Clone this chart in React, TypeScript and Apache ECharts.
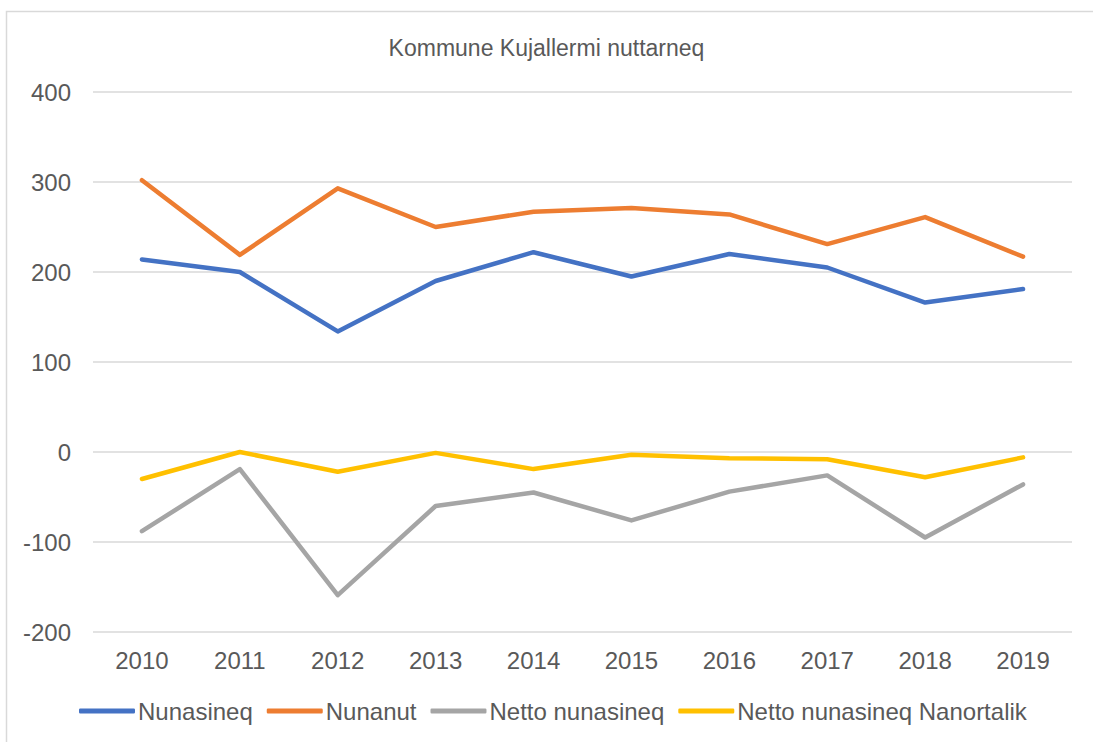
import React, { useEffect, useRef } from "react";
import * as echarts from "echarts";

const years = ["2010", "2011", "2012", "2013", "2014", "2015", "2016", "2017", "2018", "2019"];
const nunasineq = [214, 200, 134, 190, 222, 195, 220, 205, 166, 181];
const nunanut = [302, 219, 293, 250, 267, 271, 264, 231, 261, 217];
const netto = [-88, -19, -159, -60, -45, -76, -44, -26, -95, -36];
const nettoNanortalik = [-30, 0, -22, -1, -19, -3, -7, -8, -28, -6];

const seriesNames = ["Nunasineq", "Nunanut", "Netto nunasineq", "Netto nunasineq Nanortalik"];
const seriesColors = ["#4472C4", "#ED7D31", "#A5A5A5", "#FFC000"];
const seriesData = [nunasineq, nunanut, netto, nettoNanortalik];

const FONT = "'Liberation Sans', Arial, sans-serif";
const TEXT = "#595959";

export default function App() {
  const ref = useRef<HTMLDivElement>(null);
  useEffect(() => {
    if (!ref.current) return;
    const chart = echarts.init(ref.current, undefined, { renderer: "svg" });
    chart.setOption({
      animation: false,
      backgroundColor: "#ffffff",
      graphic: [
        {
          type: "rect",
          shape: { x: 6.5, y: 11.5, width: 1100, height: 800 },
          style: { fill: "none", stroke: "#D9D9D9", lineWidth: 1.5 },
          silent: true,
          z: -1,
        },
      ],
      title: {
        text: "Kommune Kujallermi nuttarneq",
        left: "center",
        top: 31,
        textStyle: { fontFamily: FONT, fontSize: 23, fontWeight: "normal", color: TEXT },
      },
      grid: { left: 93, right: 21, top: 92, bottom: 110, containLabel: false },
      xAxis: {
        type: "category",
        data: years,
        boundaryGap: true,
        axisLine: { show: false },
        axisTick: { show: false },
        axisLabel: { fontFamily: FONT, fontSize: 24, color: TEXT, margin: 16 },
        splitLine: { show: false },
      },
      yAxis: {
        type: "value",
        min: -200,
        max: 400,
        interval: 100,
        axisLine: { show: false },
        axisTick: { show: false },
        axisLabel: { fontFamily: FONT, fontSize: 24, color: TEXT, margin: 22 },
        splitLine: { lineStyle: { color: "#D9D9D9", width: 1.5 } },
      },
      legend: {
        bottom: 14,
        left: 74,
        padding: 5,
        icon: "roundRect",
        itemWidth: 56,
        itemHeight: 5,
        itemGap: 14,
        textStyle: { fontFamily: FONT, fontSize: 24, color: TEXT, padding: [0, 0, 0, -2] },
        data: seriesNames,
      },
      series: seriesNames.map((name, i) => ({
        name,
        type: "line",
        data: seriesData[i],
        color: seriesColors[i],
        symbol: "none",
        showSymbol: false,
        lineStyle: { width: 4.5, color: seriesColors[i], cap: "round", join: "round" },
      })),
    });
    return () => chart.dispose();
  }, []);
  return (
    <div
      ref={ref}
      style={{ position: "fixed", left: 0, top: 0, width: 1093, height: 742, background: "#fff" }}
    />
  );
}
